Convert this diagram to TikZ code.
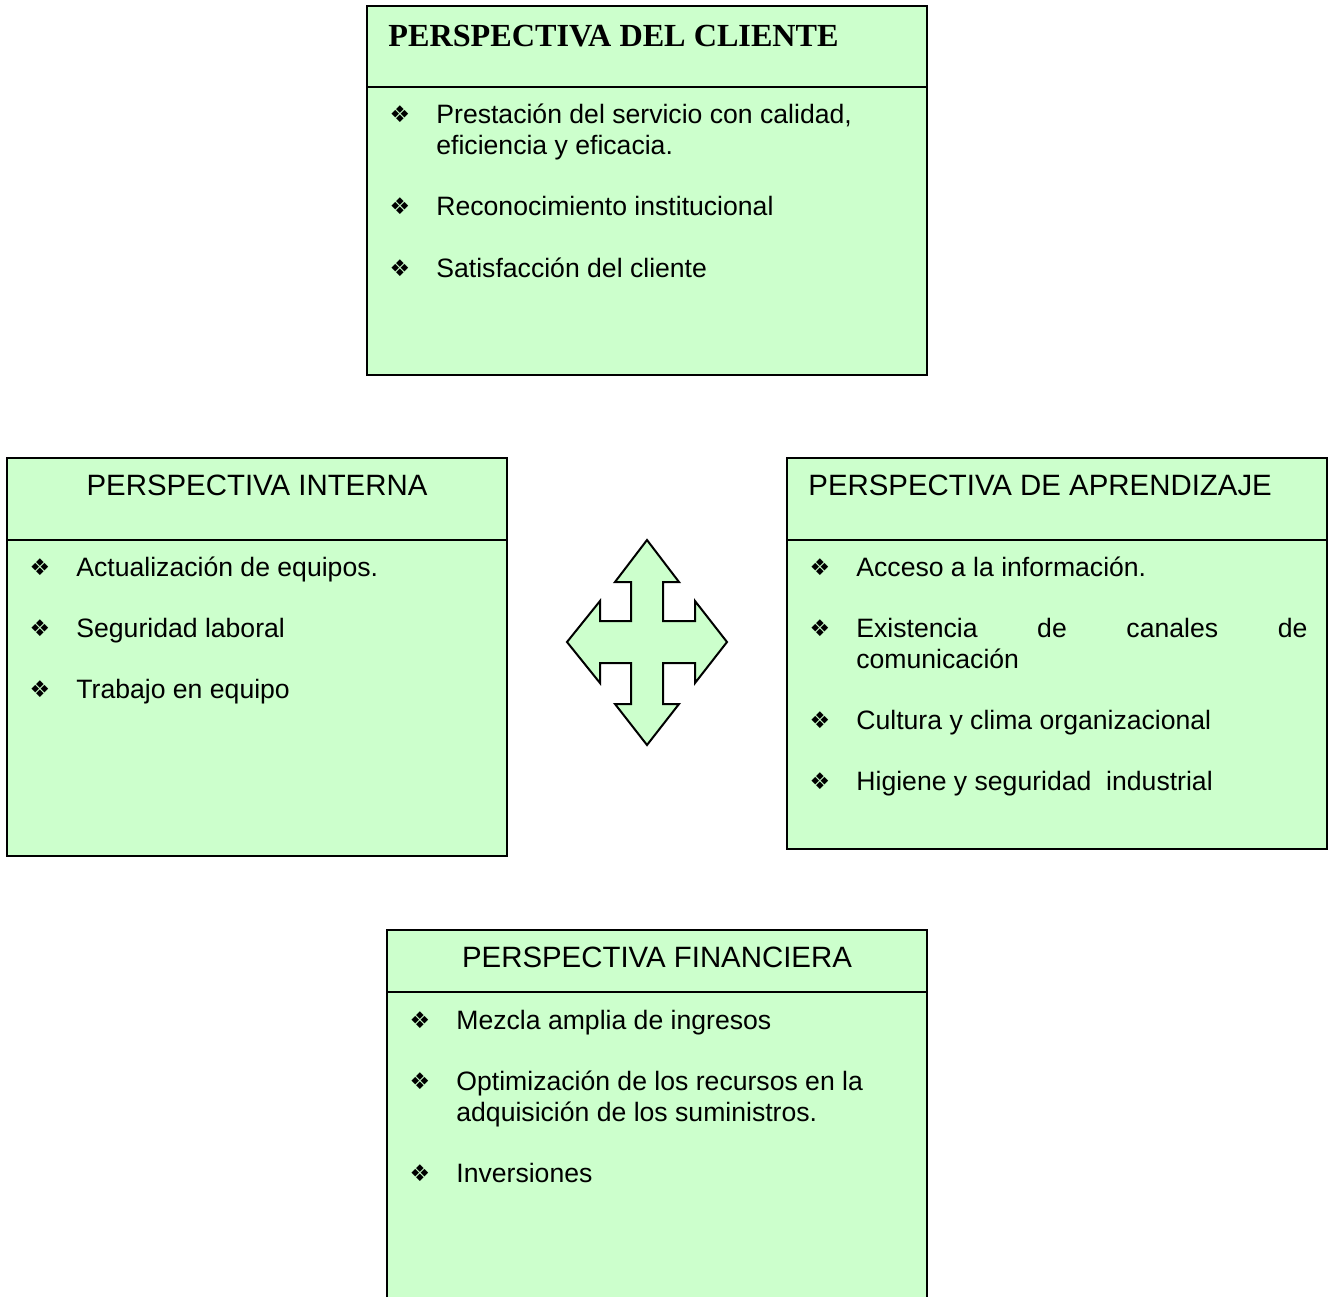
\documentclass[tikz,border=0pt]{standalone}
\usepackage{fontspec}
\setmainfont{Liberation Sans}
\newfontfamily\titlefont{Liberation Serif}
\newfontfamily\symfont{DejaVu Sans}
\definecolor{panelgreen}{HTML}{CCFFCC}

\tikzset{
  panel/.style={fill=panelgreen, draw=black, line width=1pt},
  divider/.style={draw=black, line width=1pt},
  item/.style={anchor=base west, inner sep=0pt, font=\fontsize{13.3}{15.5}\selectfont},
  head/.style={anchor=base, inner sep=0pt, font=\fontsize{14.7}{16}\selectfont},
  bul/.style={inner sep=0pt, font=\symfont\fontsize{11.5}{12}\selectfont},
}

\begin{document}
\begin{tikzpicture}[x=0.5pt, y=-0.5pt]
  \useasboundingbox (0,0) rectangle (1334,1297);

  % ---- customer perspective (top) ----
  \draw[panel] (367,6) rectangle (927,375);
  \draw[divider] (367,87) -- (927,87);
  \node[anchor=base west, inner sep=0pt, font=\titlefont\bfseries\fontsize{16.1}{18}\selectfont]
    (hc) at (388,46) {PERSPECTIVA DEL CLIENTE};
  \node[bul] (bc1) at (400,114) {❖};
  \node[item] (c1a) at (436,123) {Prestación del servicio con calidad,};
  \node[item] (c1b) at (436,154) {eficiencia y eficacia.};
  \node[bul] (bc2) at (400,206) {❖};
  \node[item] (c2) at (436,215) {Reconocimiento institucional};
  \node[bul] (bc3) at (400,268) {❖};
  \node[item] (c3) at (436,277) {Satisfacción del cliente};

  % ---- internal perspective (left) ----
  \draw[panel] (7,458) rectangle (507,856);
  \draw[divider] (7,540) -- (507,540);
  \node[head] (hi) at (257,495) {PERSPECTIVA INTERNA};
  \node[bul] (bi1) at (40,567) {❖};
  \node[item] (i1) at (76,576) {Actualización de equipos.};
  \node[bul] (bi2) at (40,628) {❖};
  \node[item] (i2) at (76,637) {Seguridad laboral};
  \node[bul] (bi3) at (40,689) {❖};
  \node[item] (i3) at (76,698) {Trabajo en equipo};

  % ---- learning perspective (right) ----
  \draw[panel] (787,458) rectangle (1327,849);
  \draw[divider] (787,540) -- (1327,540);
  \node[head, anchor=base west] (ha) at (808,495) {PERSPECTIVA DE APRENDIZAJE};
  \node[bul] (ba1) at (820,567) {❖};
  \node[item] (a1) at (856,576) {Acceso a la información.};
  \node[bul] (ba2) at (820,628) {❖};
  \node[item] (a2a) at (856,637) {\makebox[225.5pt][s]{Existencia de canales de}};
  \node[item] (a2b) at (856,668) {comunicación};
  \node[bul] (ba3) at (820,720) {❖};
  \node[item] (a3) at (856,729) {Cultura y clima organizacional};
  \node[bul] (ba4) at (820,781) {❖};
  \node[item] (a4) at (856,790) {Higiene y seguridad\ \ industrial};

  % ---- financial perspective (bottom, open at the page edge) ----
  \fill[panelgreen] (387,930) rectangle (927,1297);
  \draw[divider] (387,1297) -- (387,930) -- (927,930) -- (927,1297);
  \draw[divider] (387,992) -- (927,992);
  \node[head] (hf) at (657,967) {PERSPECTIVA FINANCIERA};
  \node[bul] (bf1) at (420,1020) {❖};
  \node[item] (f1) at (456,1029) {Mezcla amplia de ingresos};
  \node[bul] (bf2) at (420,1081) {❖};
  \node[item] (f2a) at (456,1090) {Optimización de los recursos en la};
  \node[item] (f2b) at (456,1121) {adquisición de los suministros.};
  \node[bul] (bf3) at (420,1173) {❖};
  \node[item] (f3) at (456,1182) {Inversiones};

  % ---- four-way arrow in the centre ----
  \draw[panel]
    (647,540) -- (679,582) -- (663,582) -- (663,621) -- (695,621) -- (695,601)
    -- (727,642) -- (695,683) -- (695,663) -- (663,663) -- (663,704) -- (679,704)
    -- (647,745) -- (615,704) -- (631,704) -- (631,663) -- (600,663) -- (600,683)
    -- (567,642) -- (600,601) -- (600,621) -- (631,621) -- (631,582) -- (615,582)
    -- cycle;
\end{tikzpicture}
\end{document}
